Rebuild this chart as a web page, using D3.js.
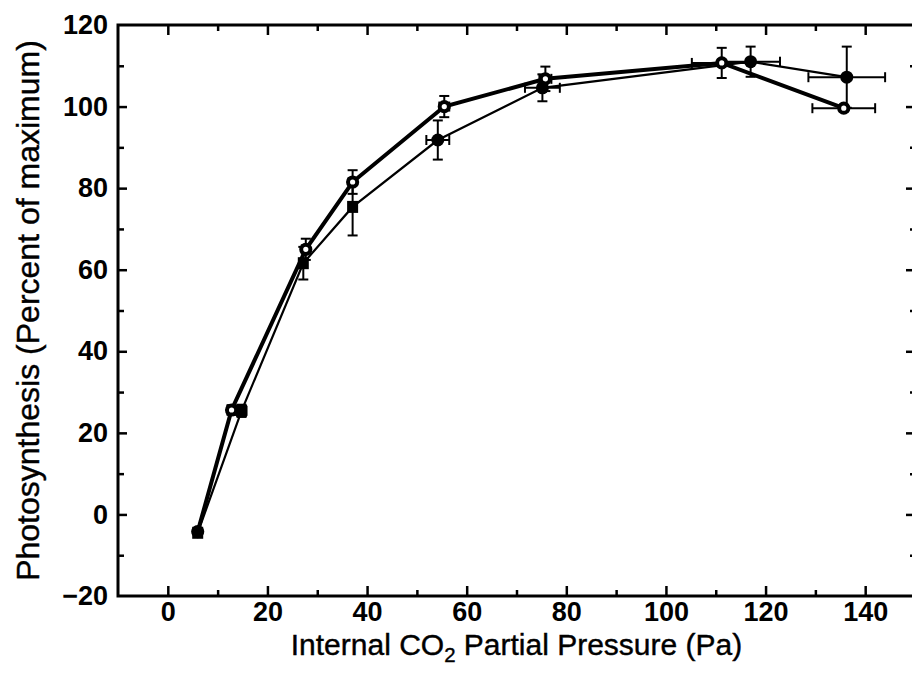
<!DOCTYPE html>
<html>
<head>
<meta charset="utf-8">
<script src="https://cdn.jsdelivr.net/npm/d3@7"></script>
<style>
  html, body { margin: 0; padding: 0; background: #fff; }
  svg { display: block; }
  text { font-family: "Liberation Sans", Arial, Helvetica, sans-serif; fill: #000; }
</style>
</head>
<body>
<svg id="chart" width="912" height="677"></svg>
<script>
// ---------- data ----------
const xTicksMajor = [0, 20, 40, 60, 80, 100, 120, 140];
const xTicksMinor = [10, 30, 50, 70, 90, 110, 130];
const yTicksMajor = [-20, 0, 20, 40, 60, 80, 100, 120];
const yTicksMinor = [-10, 10, 30, 50, 70, 90, 110];

// open-circle series (thick line)
const xOpen    = [6, 12.8, 27.7, 37.1, 55.5, 75.8, 111.2, 135.7];
const yOpen    = [-4.2, 25.6, 65.0, 81.5, 100.0, 106.8, 110.7, 99.6];
const yErrOpen = [0, 1.2, 2.6, 2.9, 2.6, 3.0, 3.7, 0.8];
const xErrOpen = [0, 0.8, 0.8, 0.6, 1.0, 1.2, 6.0, 6.3];

// filled-symbol series (thin line)
const xFilled    = [6, 14.8, 27.2, 37.1, 54.2, 75.2, 117.0, 136.3];
const yFilled    = [-4.5, 25.4, 61.6, 75.4, 91.8, 104.6, 111.0, 107.2];
const yErrFilled = [0, 1.5, 4.0, 7.0, 4.8, 3.3, 3.7, 7.5];
const xErrFilled = [0, 1.0, 0.6, 0.5, 2.3, 3.5, 5.9, 7.7];

const xTitle = "Internal CO";
const xTitleSub = "2";
const xTitleRest = " Partial Pressure (Pa)";
const yTitle = "Photosynthesis (Percent of maximum)";

// ---------- layout ----------
const svg = d3.select("#chart");
const x = d3.scaleLinear().domain([-10, 150]).range([118, 915]);
const y = d3.scaleLinear().domain([-20, 120]).range([596, 25]);
const FS = 27;      // tick labels
const TFS = 30;     // x title

// frame
svg.append("rect")
  .attr("x", x(-10)).attr("y", y(120))
  .attr("width", x(150) - x(-10)).attr("height", y(-20) - y(120))
  .attr("fill", "none").attr("stroke", "#000").attr("stroke-width", 3);

function styleAxis(g) {
  g.select(".domain").remove();
  g.selectAll(".tick line").attr("stroke", "#000").attr("stroke-width", 2.5);
}
function styleLabels(g) {
  g.selectAll("text").attr("font-size", FS).attr("font-weight", "bold")
    .attr("font-family", "Liberation Sans, Arial, sans-serif").attr("fill", "#000");
}

// bottom axis
svg.append("g").attr("transform", `translate(0,${y(-20)})`)
  .call(d3.axisBottom(x).tickValues(xTicksMajor).tickSize(-10).tickPadding(6).tickFormat(d3.format("d")))
  .call(styleAxis).call(styleLabels);
svg.append("g").attr("transform", `translate(0,${y(-20)})`)
  .call(d3.axisBottom(x).tickValues(xTicksMinor).tickSize(-6).tickFormat(""))
  .call(styleAxis);

// top axis
svg.append("g").attr("transform", `translate(0,${y(120)})`)
  .call(d3.axisTop(x).tickValues(xTicksMajor).tickSize(-10).tickFormat(""))
  .call(styleAxis);
svg.append("g").attr("transform", `translate(0,${y(120)})`)
  .call(d3.axisTop(x).tickValues(xTicksMinor).tickSize(-6).tickFormat(""))
  .call(styleAxis);

// left axis
const gl = svg.append("g").attr("transform", `translate(${x(-10)},0)`)
  .call(d3.axisLeft(y).tickValues(yTicksMajor).tickSize(-9).tickPadding(10).tickFormat(d3.format("d")))
  .call(styleAxis).call(styleLabels);
gl.selectAll(".tick").filter(d => d === -20 || d === 120).select("line").remove();
svg.append("g").attr("transform", `translate(${x(-10)},0)`)
  .call(d3.axisLeft(y).tickValues(yTicksMinor).tickSize(-6).tickFormat(""))
  .call(styleAxis);

// right axis
svg.append("g").attr("transform", `translate(${x(150)},0)`)
  .call(d3.axisRight(y).tickValues(yTicksMajor.filter(d => d > -20 && d < 120)).tickSize(-9).tickFormat(""))
  .call(styleAxis);
svg.append("g").attr("transform", `translate(${x(150)},0)`)
  .call(d3.axisRight(y).tickValues(yTicksMinor).tickSize(-5).tickFormat(""))
  .call(styleAxis);

// ---------- series ----------
const openData = xOpen.map((v, i) => ({x: v, y: yOpen[i], ey: yErrOpen[i], ex: xErrOpen[i]}));
const filledData = xFilled.map((v, i) => ({x: v, y: yFilled[i], ey: yErrFilled[i], ex: xErrFilled[i], sq: i < 4}));

const line = d3.line().x(d => x(d.x)).y(d => y(d.y));

svg.append("path").datum(filledData).attr("d", line)
  .attr("fill", "none").attr("stroke", "#000").attr("stroke-width", 2.2);
svg.append("path").datum(openData).attr("d", line)
  .attr("fill", "none").attr("stroke", "#000").attr("stroke-width", 4);

function errorBars(data) {
  const g = svg.append("g").attr("stroke", "#000").attr("stroke-width", 2).attr("fill", "none");
  const cap = 5;
  data.filter(d => d.ey > 0).forEach(d => {
    const cx = x(d.x), y1 = y(d.y + d.ey), y2 = y(d.y - d.ey);
    g.append("line").attr("x1", cx).attr("x2", cx).attr("y1", y1).attr("y2", y2);
    g.append("line").attr("x1", cx - cap).attr("x2", cx + cap).attr("y1", y1).attr("y2", y1);
    g.append("line").attr("x1", cx - cap).attr("x2", cx + cap).attr("y1", y2).attr("y2", y2);
  });
  data.filter(d => d.ex > 0).forEach(d => {
    const cy = y(d.y), x1 = x(d.x - d.ex), x2 = x(d.x + d.ex);
    g.append("line").attr("x1", x1).attr("x2", x2).attr("y1", cy).attr("y2", cy);
    g.append("line").attr("x1", x1).attr("x2", x1).attr("y1", cy - cap).attr("y2", cy + cap);
    g.append("line").attr("x1", x2).attr("x2", x2).attr("y1", cy - cap).attr("y2", cy + cap);
  });
}
errorBars(filledData);
errorBars(openData);

// open markers (drawn first, filled symbols sit on top where they coincide)
svg.append("g").selectAll("circle").data(openData).join("circle")
  .attr("cx", d => x(d.x)).attr("cy", d => y(d.y)).attr("r", 4.6)
  .attr("fill", "#fff").attr("stroke", "#000").attr("stroke-width", 4);

// filled markers
svg.append("g").selectAll("rect").data(filledData.filter(d => d.sq)).join("rect")
  .attr("x", d => x(d.x) - 5.5).attr("y", d => y(d.y) - 6)
  .attr("width", 11).attr("height", 12).attr("fill", "#000");
svg.append("g").selectAll("circle").data(filledData.filter(d => !d.sq)).join("circle")
  .attr("cx", d => x(d.x)).attr("cy", d => y(d.y)).attr("r", 6.5).attr("fill", "#000");

// ---------- titles ----------
const xt = svg.append("text")
  .attr("x", (x(-10) + x(150)) / 2).attr("y", 655)
  .attr("text-anchor", "middle").attr("font-size", TFS)
  .attr("stroke", "#000").attr("stroke-width", 0.4);
xt.append("tspan").text(xTitle);
xt.append("tspan").attr("font-size", TFS * 0.68).attr("dy", 7).text(xTitleSub);
xt.append("tspan").attr("dy", -7).text(xTitleRest);

svg.append("text")
  .attr("transform", `translate(39,${(y(-20) + y(120)) / 2}) rotate(-90)`)
  .attr("text-anchor", "middle").attr("font-size", 32)
  .attr("stroke", "#000").attr("stroke-width", 0.4)
  .text(yTitle);
</script>
</body>
</html>
